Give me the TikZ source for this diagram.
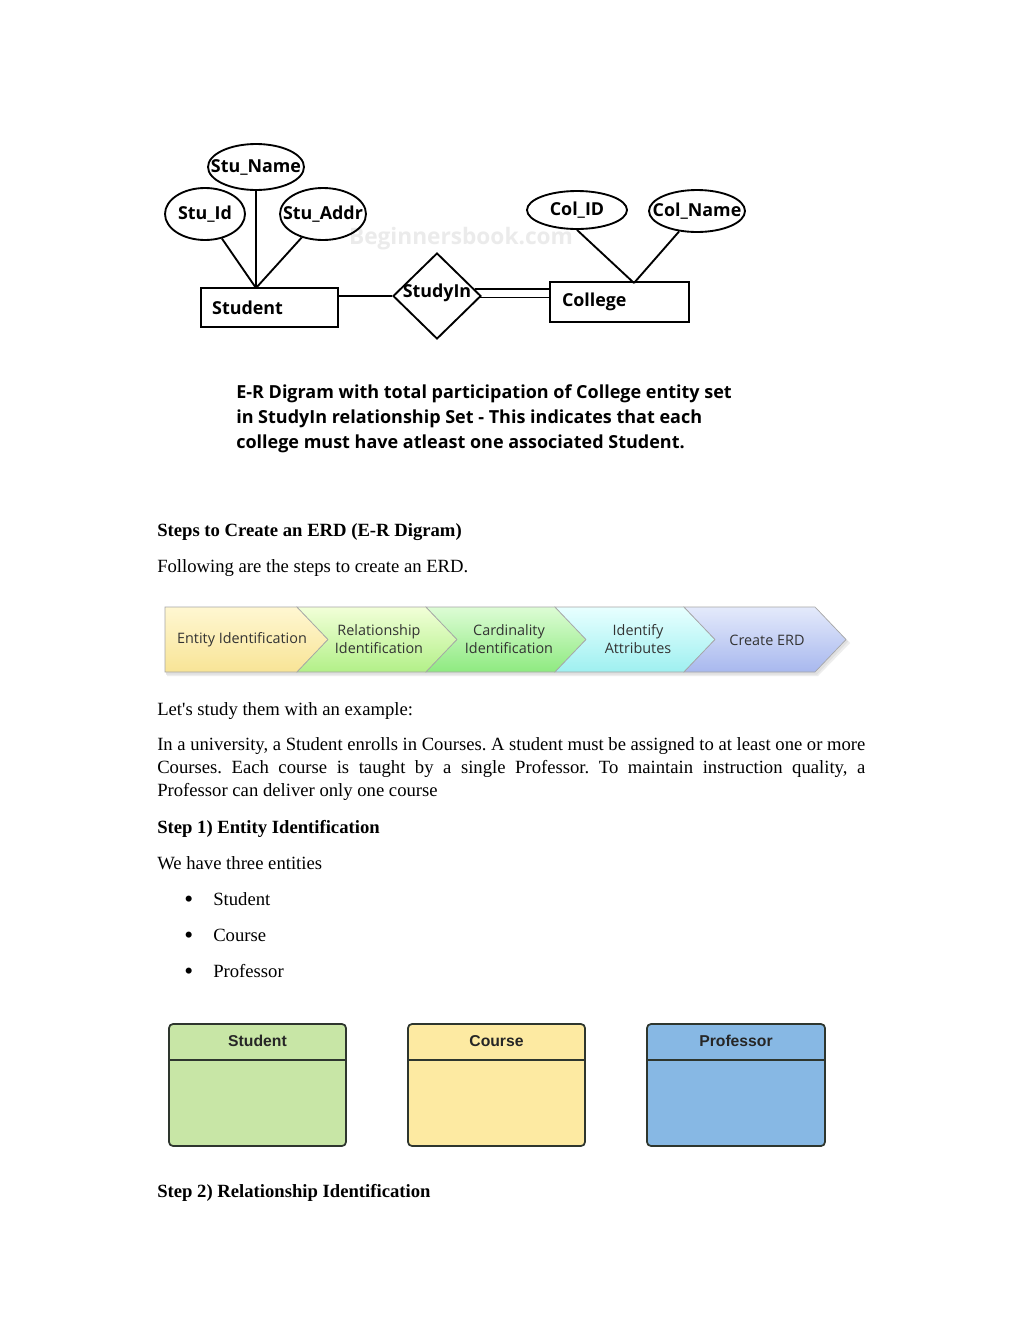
\documentclass[tikz,border=0pt]{standalone}
\usepackage{fontspec}
\usepackage{graphicx}
\setmainfont{Liberation Serif}
\newfontfamily\segoe{Open Sans}
\newfontfamily\arialf{Liberation Sans}
\usetikzlibrary{shapes.geometric}
\definecolor{entgreen}{HTML}{C8E6A6}
\definecolor{entyellow}{HTML}{FDEAA2}
\definecolor{entblue}{HTML}{87B8E4}
\definecolor{entborder}{HTML}{2E362E}
\definecolor{ch1t}{HTML}{FFF7D2}\definecolor{ch1b}{HTML}{F8E496}
\definecolor{ch2t}{HTML}{F2FFD8}\definecolor{ch2b}{HTML}{B2F088}
\definecolor{ch3t}{HTML}{DDFCD5}\definecolor{ch3b}{HTML}{8EEA80}
\definecolor{ch4t}{HTML}{E8FFFF}\definecolor{ch4b}{HTML}{9EF0F0}
\definecolor{ch5t}{HTML}{E4EAFB}\definecolor{ch5b}{HTML}{A8B8EE}
\frenchspacing
\begin{document}
\begin{tikzpicture}[x=0.75pt,y=-0.75pt,
  erlbl/.style={font=\segoe\bfseries\fontsize{13.4}{16}\selectfont, inner sep=0pt},
  attr/.style={ellipse, draw, line width=1.4pt, inner sep=0pt},
  ent/.style={rectangle, draw, line width=1.4pt, align=left, inner ysep=0pt,
    font=\segoe\bfseries\fontsize{13.4}{16}\selectfont},
  rel/.style={diamond, draw, line width=1.4pt, inner sep=0pt},
  erline/.style={line width=1.4pt},
  captxt/.style={anchor=base west, inner sep=0pt, font=\segoe\bfseries\fontsize{13.5}{16}\selectfont},
  bodytxt/.style={anchor=base west, inner sep=0pt, font=\fontsize{14}{17}\selectfont},
  boldtxt/.style={bodytxt, font=\fontsize{14}{17}\selectfont\bfseries},
  bullettxt/.style={anchor=base west, inner sep=0pt, font=\fontsize{19}{19}\selectfont},
  chevtxt/.style={inner sep=0pt, align=center, text=black!80, font=\segoe\fontsize{10.8}{13.5}\selectfont},
  chev/.style={draw=black!35, line width=0.5pt},
  entbox/.style={rectangle, rounded corners=3pt, draw=entborder, line width=1.3pt,
    minimum height=91.5pt, inner sep=0pt},
  entsep/.style={draw=entborder, line width=1.3pt},
  enthead/.style={inner sep=0pt, font=\arialf\bfseries\fontsize{11.8}{14}\selectfont, text=black!85}
]
\useasboundingbox (0,0) rectangle (1024,1325);
\fill[white] (0,0) rectangle (1024,1325);

% ---------- E-R diagram ----------
\node[font=\segoe\bfseries\fontsize{17}{20}\selectfont, text=black!8] (wm) at (461,239) {Beginnersbook.com};

\node[attr, minimum width=72pt, minimum height=34.5pt, label={[erlbl]center:Stu\_Name}] (stuname) at (256,167) {};
\node[attr, minimum width=60pt, minimum height=39pt, label={[erlbl]center:Stu\_Id}] (stuid) at (205,214) {};
\node[attr, minimum width=64.5pt, minimum height=39pt, label={[erlbl]center:Stu\_Addr}] (stuaddr) at (323,214) {};
\node[attr, minimum width=75pt, minimum height=28.5pt, label={[erlbl]center:Col\_ID}] (colid) at (577,210) {};
\node[attr, minimum width=72pt, minimum height=31.5pt, label={[erlbl]center:Col\_Name}] (colname) at (697,211) {};

\node[ent, text width=86pt, inner xsep=8.25pt, minimum height=29.25pt] (student) at (269.5,307.5) {Student};
\node[ent, text width=86.25pt, inner xsep=9pt, minimum height=30pt] (college) at (619.5,302) {College};
\node[rel, minimum width=66pt, minimum height=64.5pt,
  label={[erlbl, yshift=2.25pt]center:StudyIn}] (studyin) at (437,296) {};

\coordinate (sj) at (256,288);
\coordinate (cj) at (634,283);
\draw[erline] (stuid) -- (sj);
\draw[erline] (stuname) -- (sj);
\draw[erline] (stuaddr) -- (sj);
\draw[erline] (colid.south) -- (cj);
\draw[erline] (colname) -- (cj);
\draw[erline] (student.east |- studyin.west) -- (studyin.west);
\draw[erline] (studyin.10) -- (college.west |- studyin.10);
\draw[erline] (studyin.358) -- (college.west |- studyin.358);

\node[captxt] (cap1) at (236,398) {E-R Digram with total participation of College entity set};
\node[captxt] (cap2) at (236,423) {in StudyIn relationship Set - This indicates that each};
\node[captxt] (cap3) at (236,448) {college must have atleast one associated Student.};

% ---------- text ----------
\node[boldtxt] (h1) at (157,536) {Steps to Create an ERD (E-R Digram)};
\node[bodytxt] (t1) at (157,572) {Following are the steps to create an ERD.};

% ---------- chevrons ----------
\fill[black!7] (167,610) -- (818,610) -- (850,643) -- (818,676) -- (167,676) -- cycle;
\fill[black!12] (166,609) -- (817,609) -- (848,641.5) -- (817,674.5) -- (166,674.5) -- cycle;
\shade[chev, top color=ch1t, bottom color=ch1b]
  (165,607) -- (297,607) -- (328,639.5) -- (297,672) -- (165,672) -- cycle;
\shade[chev, top color=ch2t, bottom color=ch2b]
  (297,607) -- (426,607) -- (457,639.5) -- (426,672) -- (297,672) -- (328,639.5) -- cycle;
\shade[chev, top color=ch3t, bottom color=ch3b]
  (426,607) -- (555,607) -- (586,639.5) -- (555,672) -- (426,672) -- (457,639.5) -- cycle;
\shade[chev, top color=ch4t, bottom color=ch4b]
  (555,607) -- (684,607) -- (715,639.5) -- (684,672) -- (555,672) -- (586,639.5) -- cycle;
\shade[chev, top color=ch5t, bottom color=ch5b]
  (684,607) -- (815,607) -- (846,639.5) -- (815,672) -- (684,672) -- (715,639.5) -- cycle;
\node[chevtxt] (c1) at (242,640) {Entity Identification};
\node[chevtxt] (c2) at (379,639) {Relationship\\Identification};
\node[chevtxt] (c3) at (509,639) {Cardinality\\Identification};
\node[chevtxt] (c4) at (638,639) {Identify\\Attributes};
\node[chevtxt] (c5) at (767,640) {Create ERD};

\node[bodytxt] (t2) at (157,715) {Let\textquotesingle s study them with an example:};
\node[bodytxt] (p1) at (157,750) {\resizebox{531pt}{\height}{In a university, a Student enrolls in Courses. A student must be assigned to at least one or more}};
\node[bodytxt] (p2) at (157,773) {\makebox[531pt][s]{Courses. Each course is taught by a single Professor. To maintain instruction quality, a}};
\node[bodytxt] (p3) at (157,796) {Professor can deliver only one course};
\node[boldtxt] (h2) at (157,833) {Step 1) Entity Identification};
\node[bodytxt] (t3) at (157,869) {We have three entities};
\node[bullettxt] (b1) at (184,907) {\textbullet};
\node[bullettxt] (b2) at (184,943) {\textbullet};
\node[bullettxt] (b3) at (184,979) {\textbullet};
\node[bodytxt] (l1) at (213,905) {Student};
\node[bodytxt] (l2) at (213,941) {Course};
\node[bodytxt] (l3) at (213,977) {Professor};

% ---------- entity boxes ----------
\coordinate (hl) at (0,1060);
\node[entbox, fill=entgreen, minimum width=132.75pt] (estudent) at (257.5,1085) {};
\node[entbox, fill=entyellow, minimum width=132.75pt] (ecourse) at (496.5,1085) {};
\node[entbox, fill=entblue, minimum width=133.5pt] (eprof) at (736,1085) {};
\draw[entsep] (estudent.west |- hl) -- (estudent.east |- hl);
\draw[entsep] (ecourse.west |- hl) -- (ecourse.east |- hl);
\draw[entsep] (eprof.west |- hl) -- (eprof.east |- hl);
\node[enthead] (estudentt) at (257.5,1041) {Student};
\node[enthead] (ecourset) at (496.5,1041) {Course};
\node[enthead] (eproft) at (736,1041) {Professor};

\node[boldtxt] (h3) at (157,1197) {Step 2) Relationship Identification};
\end{tikzpicture}
\end{document}
